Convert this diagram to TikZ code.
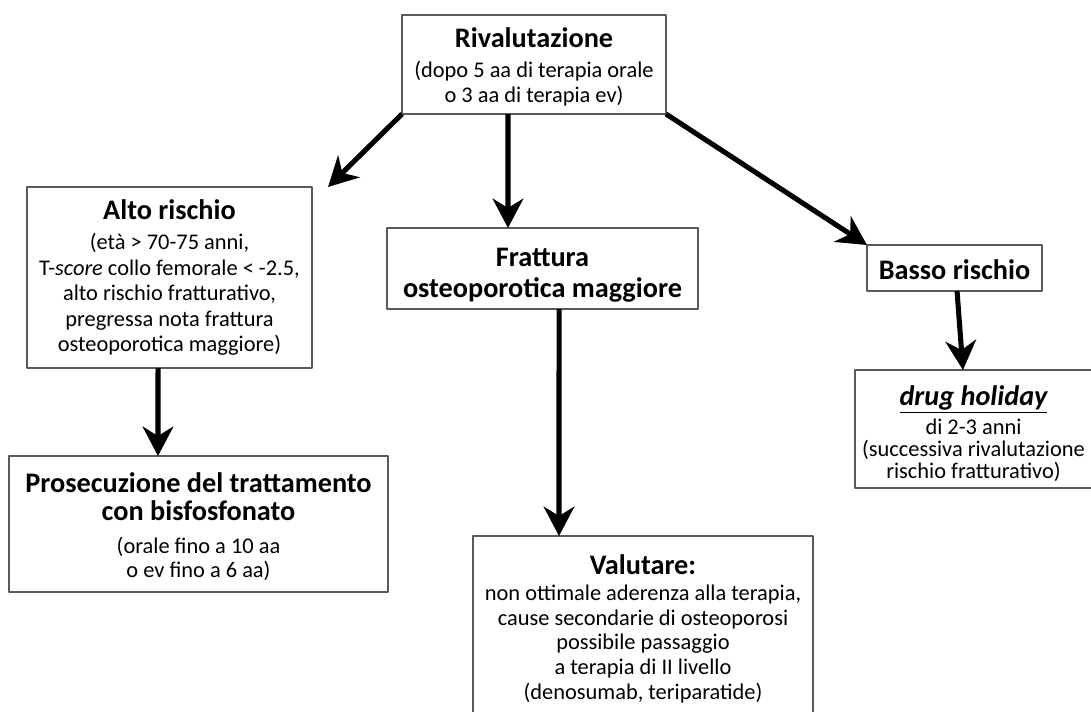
\documentclass[tikz,border=0pt]{standalone}
\usepackage{fontspec}
\setmainfont{Carlito}
\usetikzlibrary{arrows.meta}
\newcommand\titlefont{\fontsize{21.2}{23}\selectfont\bfseries}
\newcommand\bodyfont[1][18.75]{\fontsize{16.8}{#1}\selectfont}
\begin{document}
\begin{tikzpicture}[x=0.75pt,y=-0.75pt,line join=round,
	>={Stealth[length=22pt,width=23pt,inset=7pt]},
	flowbox/.style={draw=black!65,line width=1.1pt,fill=white,inner sep=0pt,outer sep=0pt,align=center,font=\bodyfont},
	bigarrow/.style={->,line width=3.8pt}]
	\useasboundingbox (0,0) rectangle (1091,711);
	
	% caselle
	\node[flowbox,minimum width=198pt,minimum height=74.25pt] (riv) at (534,64.5)
		{\rule{0pt}{18pt}{\titlefont Rivalutazione}\\[4pt](dopo 5 aa di terapia orale\\o 3 aa di terapia ev)};
	\node[flowbox,minimum width=213.75pt,minimum height=135.75pt,font={\bodyfont[19.2]}] (alto) at (169.5,277.5)
		{{\titlefont Alto rischio}\\[3.5pt](età > 70-75 anni,\\T-\textit{score} collo femorale < -2.5,\\alto rischio fratturativo,\\pregressa nota frattura\\osteoporotica maggiore)};
	\node[flowbox,minimum width=233.25pt,minimum height=60.75pt,font=\titlefont] (frat) at (542.5,268.5)
		{\rule{0pt}{24pt}Frattura\\osteoporotica maggiore};
	\node[flowbox,minimum width=131.25pt,minimum height=34.5pt,font=\titlefont] (basso) at (954.5,268)
		{\rule{0pt}{17pt}Basso rischio};
	\node[flowbox,minimum width=177.75pt,minimum height=88.5pt,font={\bodyfont[16.5]}] (drug) at (973.5,429)
		{\rule{0pt}{22pt}{\titlefont\itshape\underline{drug holiday}}\\[3pt]di 2-3 anni\\(successiva rivalutazione\\rischio fratturativo)};
	\node[flowbox,minimum width=284.25pt,minimum height=102pt,font={\bodyfont[18]}] (pros) at (198.5,524)
		{\rule{0pt}{19pt}{\titlefont Prosecuzione del trattamento}\\[3pt]{\titlefont con bisfosfonato}\\[6.5pt](orale fino a 10 aa\\o ev fino a 6 aa)};
	\node[flowbox,minimum width=255pt,minimum height=139.5pt,font={\bodyfont[18.6]}] (val) at (643,629)
		{{\titlefont Valutare:}\\[0.5pt]non ottimale aderenza alla terapia,\\cause secondarie di osteoporosi\\possibile passaggio\\a terapia di II livello\\(denosumab, teriparatide)};
	
	% frecce
	\draw[bigarrow] (riv.south west) -- ([xshift=12pt]alto.north east);
	\draw[bigarrow] ([xshift=-19.5pt]riv.south) -- ([xshift=-25.9pt]frat.north);
	\draw[bigarrow] (riv.south east) -- (basso.north west);
	\draw[bigarrow] ([xshift=-8.6pt]alto.south) -- ([xshift=-30.4pt]pros.north);
	\draw[bigarrow] ([xshift=12.4pt]frat.south) -- ([xshift=-63pt]val.north);
	\draw[bigarrow] ([xshift=1.9pt]basso.south) -- ([xshift=-7.9pt]drug.north);
\end{tikzpicture}
\end{document}
